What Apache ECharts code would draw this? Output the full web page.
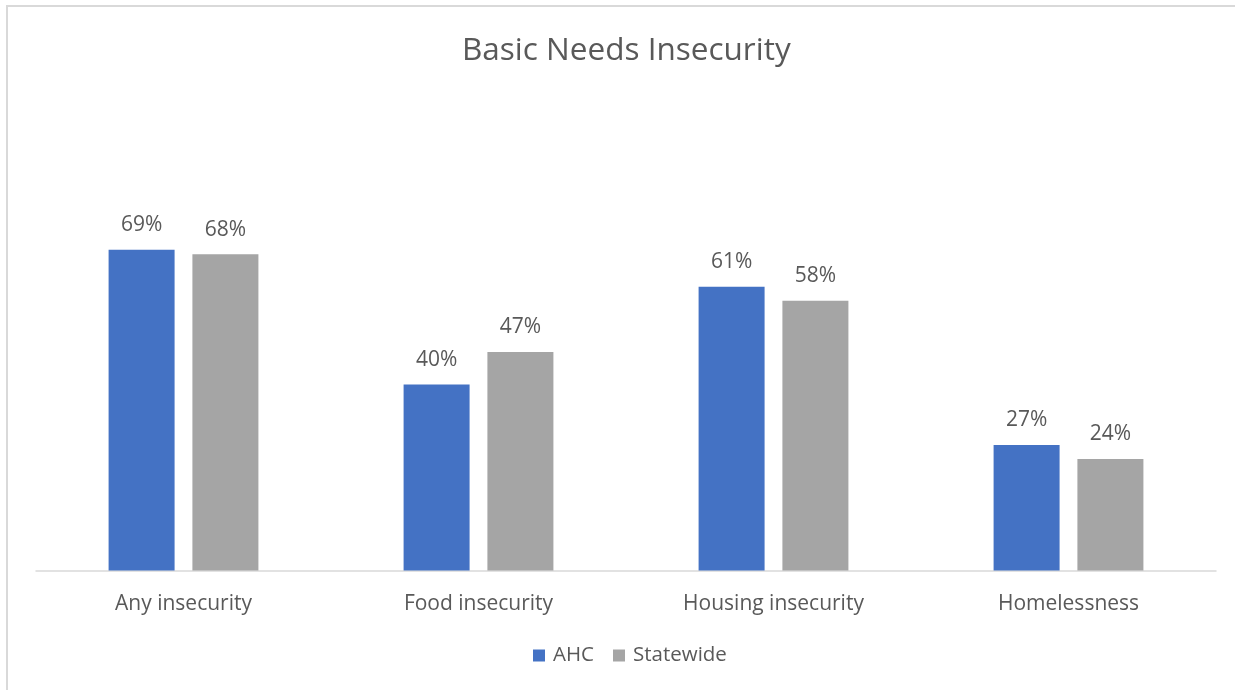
<!DOCTYPE html>
<html>
<head>
<meta charset="utf-8">
<script src="https://cdn.jsdelivr.net/npm/echarts@6/dist/echarts.min.js"></script>
<style>
  html, body { margin: 0; padding: 0; background: #fff; overflow: hidden; width: 1235px; height: 690px; }
  #frame { position: absolute; left: 6px; top: 5px; width: 1229px; height: 685px; border-left: 2px solid #d9d9d9; border-top: 2px solid #d9d9d9; box-sizing: border-box; }
  #chart { position: absolute; left: 0; top: 0; width: 1235px; height: 690px; }
</style>
</head>
<body>
<div id="frame"></div>
<div id="chart"></div>
<script>
const title = 'Basic Needs Insecurity';
const categories = ['Any insecurity', 'Food insecurity', 'Housing insecurity', 'Homelessness'];
const seriesNames = ['AHC', 'Statewide'];
const ahcValues = [69, 40, 61, 27];
const statewideValues = [68, 47, 58, 24];

const textColor = '#595959';
const fontFamily = '"Open Sans", "Noto Sans", sans-serif';

const chart = echarts.init(document.getElementById('chart'));
chart.setOption({
  backgroundColor: 'transparent',
  animation: false,
  title: {
    text: title,
    left: 457,
    top: 30,
    textStyle: { color: textColor, fontSize: 31.5, fontWeight: 'normal', fontFamily: fontFamily }
  },
  legend: {
    data: seriesNames,
    bottom: 19,
    left: 528,
    itemWidth: 12,
    itemHeight: 12,
    itemGap: 19,
    icon: 'rect',
    textStyle: { color: textColor, fontSize: 20.5, fontFamily: fontFamily, padding: [0, 0, 0, 3] }
  },
  grid: { left: 36, right: 19, top: 198.5, bottom: 119.5, containLabel: false },
  xAxis: {
    type: 'category',
    data: categories,
    axisLine: { lineStyle: { color: '#d9d9d9', width: 1.5 } },
    axisTick: { show: false },
    axisLabel: { color: textColor, fontSize: 21, fontFamily: fontFamily, margin: 23 }
  },
  yAxis: {
    type: 'value',
    min: 0,
    max: 80,
    interval: 10,
    show: false,
    splitLine: { show: false }
  },
  series: [
    {
      name: seriesNames[0],
      type: 'bar',
      data: ahcValues,
      barWidth: 66,
      barGap: '27%',
      itemStyle: { color: '#4472C4' },
      label: { show: true, position: 'top', distance: 14, formatter: '{c}%', color: textColor, fontSize: 21, fontFamily: fontFamily }
    },
    {
      name: seriesNames[1],
      type: 'bar',
      data: statewideValues,
      barWidth: 66,
      barGap: '27%',
      itemStyle: { color: '#A5A5A5' },
      label: { show: true, position: 'top', distance: 14, formatter: '{c}%', color: textColor, fontSize: 21, fontFamily: fontFamily }
    }
  ]
});
</script>
</body>
</html>
